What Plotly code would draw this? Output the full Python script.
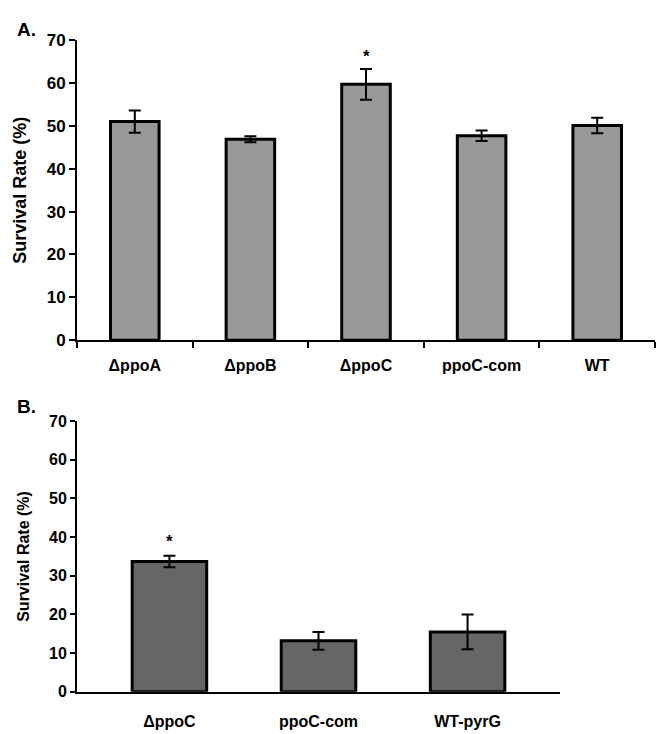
import plotly.graph_objects as go

# Panel A data
cats_a = ["\u0394ppoA", "\u0394ppoB", "\u0394ppoC", "ppoC-com", "WT"]
vals_a = [51.0, 46.9, 59.7, 47.7, 50.1]
err_a = [2.6, 0.7, 3.6, 1.2, 1.8]
star_a = ["", "", "*", "", ""]

# Panel B data
cats_b = ["\u0394ppoC", "ppoC-com", "WT-pyrG"]
vals_b = [33.7, 13.2, 15.5]
err_b = [1.5, 2.3, 4.5]
star_b = ["*", "", ""]

yticks = [0, 10, 20, 30, 40, 50, 60, 70]
ytitle = "Survival Rate (%)"

W, H = 661, 734
FONT = "Liberation Sans, Arial, sans-serif"

def px_x(a, b):
    return [a / W, b / W]

def px_y(top, bottom):
    return [1 - bottom / H, 1 - top / H]

fig = go.Figure()

fig.add_trace(go.Bar(
    x=cats_a, y=vals_a, width=0.42,
    marker=dict(color="#999999", line=dict(color="black", width=3)),
    error_y=dict(type="data", array=err_a, color="black", thickness=2, width=6),
    xaxis="x", yaxis="y", showlegend=False,
))
fig.add_trace(go.Bar(
    x=cats_b, y=vals_b, width=0.5,
    marker=dict(color="#666666", line=dict(color="black", width=3)),
    error_y=dict(type="data", array=err_b, color="black", thickness=2, width=6),
    xaxis="x2", yaxis="y2", showlegend=False,
))

annotations = []
for c, v, e, s in zip(cats_a, vals_a, err_a, star_a):
    if s:
        annotations.append(dict(x=c, y=v + e, xref="x", yref="y", text=s, showarrow=False,
                                yshift=12, font=dict(family=FONT, size=17, color="black", weight="bold")))
for c, v, e, s in zip(cats_b, vals_b, err_b, star_b):
    if s:
        annotations.append(dict(x=c, y=v + e, xref="x2", yref="y2", text=s, showarrow=False,
                                yshift=14, font=dict(family=FONT, size=17, color="black", weight="bold")))
annotations.append(dict(x=15 / W, y=1 - 8 / H, xref="paper", yref="paper", xanchor="left", yanchor="top",
                        text="A.", showarrow=False, font=dict(family=FONT, size=19, color="black", weight="bold")))
annotations.append(dict(x=15 / W, y=1 - 395 / H, xref="paper", yref="paper", xanchor="left", yanchor="top",
                        text="B.", showarrow=False, font=dict(family=FONT, size=19, color="black", weight="bold")))

axis_common = dict(showline=True, linecolor="black", linewidth=2, showgrid=False, zeroline=False, mirror=False)

fig.update_layout(
    width=W, height=H, margin=dict(l=0, r=0, t=0, b=0),
    paper_bgcolor="white", plot_bgcolor="white",
    font=dict(family=FONT, color="black"),
    xaxis=dict(domain=px_x(77, 655), type="category", tickson="boundaries", ticks="outside",
               ticklen=6, tickwidth=2, tickcolor="black", anchor="y",
               tickfont=dict(family=FONT, size=16, weight="bold"), ticklabelstandoff=10, **axis_common),
    yaxis=dict(domain=px_y(32, 340), range=[0, 70], tickvals=yticks, ticks="outside",
               ticklen=6, tickwidth=2, tickcolor="black", anchor="x",
               tickfont=dict(family=FONT, size=17, weight="bold"),
               title=dict(text=ytitle, font=dict(family=FONT, size=18, weight="bold"), standoff=15),
               **axis_common),
    xaxis2=dict(domain=px_x(77, 560), type="category", range=[-0.62, 2.62], ticks="",
                anchor="y2", tickfont=dict(family=FONT, size=16, weight="bold"), ticklabelstandoff=14,
                **axis_common),
    yaxis2=dict(domain=px_y(423, 701), range=[0, 70], tickvals=yticks, ticks="outside",
                ticklen=5, tickwidth=2, tickcolor="black", anchor="x2",
                tickfont=dict(family=FONT, size=16, weight="bold"),
                title=dict(text=ytitle, font=dict(family=FONT, size=16, weight="bold"), standoff=15),
                **axis_common),
    annotations=annotations,
)

fig.write_html("out.html")
